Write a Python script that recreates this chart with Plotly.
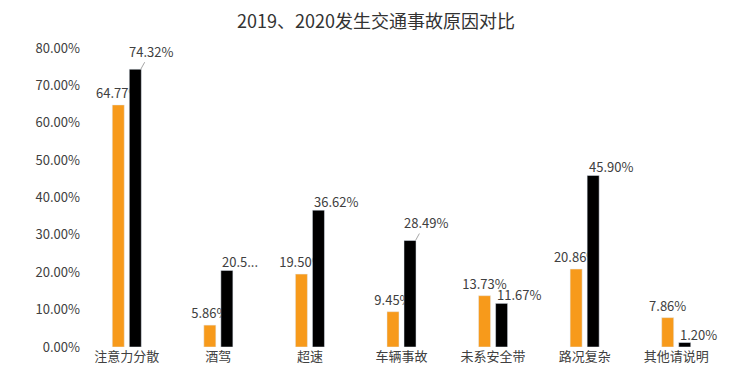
import plotly.graph_objects as go

categories = ["注意力分散", "酒驾", "超速", "车辆事故", "未系安全带", "路况复杂", "其他请说明"]
values_2019 = [0.6477, 0.0586, 0.1950, 0.0945, 0.1373, 0.2086, 0.0786]
values_2020 = [0.7432, 0.2050, 0.3662, 0.2849, 0.1167, 0.4590, 0.0120]
labels_2019 = ["64.77%", "5.86%", "19.50%", "9.45%", "13.73%", "20.86%", "7.86%"]
labels_2020 = ["74.32%", "20.5...", "36.62%", "28.49%", "11.67%", "45.90%", "1.20%"]
leader_2020 = [True, False, False, True, False, False, False]
y_ticks = [0, 0.1, 0.2, 0.3, 0.4, 0.5, 0.6, 0.7, 0.8]

FONT = "Noto Sans CJK SC"
ORANGE = "#F79A1B"
BLACK = "#000000"
TXT = "#404040"

fig = go.Figure()
fig.add_trace(go.Bar(
    x=categories, y=values_2019, name="2019", marker_color=ORANGE,
    text=labels_2019, textposition="outside", cliponaxis=False,
    constraintext="none",
    textfont=dict(family=FONT, size=13, color=TXT),
))
fig.add_trace(go.Bar(
    x=categories, y=values_2020, name="2020", marker_color=BLACK,
    cliponaxis=False,
))

annotations = []
for c, v, t, lead in zip(categories, values_2020, labels_2020, leader_2020):
    if lead:
        annotations.append(dict(
            x=c, y=v, xref="x", yref="y", text=t, showarrow=True,
            arrowhead=0, arrowwidth=1, arrowcolor="#a6a6a6",
            xshift=14, ax=10, ay=-18, standoff=0,
            font=dict(family=FONT, size=13, color=TXT),
        ))
    else:
        annotations.append(dict(
            x=c, y=v, xref="x", yref="y", text=t, showarrow=False,
            xanchor="left", yanchor="bottom", xshift=2, yshift=-3,
            font=dict(family=FONT, size=13, color=TXT),
        ))

fig.update_layout(
    width=736, height=370,
    margin=dict(l=73, r=22, t=40, b=31),
    paper_bgcolor="white", plot_bgcolor="white",
    title=dict(text="2019、2020发生交通事故原因对比", x=0.5, xanchor="center",
               y=0.963, yanchor="middle",
               font=dict(family=FONT, size=18, color="#333333")),
    showlegend=False,
    barmode="group", bargap=0.628, bargroupgap=0.294,
    annotations=annotations,
    xaxis=dict(showgrid=False, showline=False, zeroline=False, ticks="",
               tickfont=dict(family=FONT, size=13, color=TXT)),
    yaxis=dict(range=[0, 0.8], tickvals=y_ticks, tickformat=".2%",
               showgrid=False, showline=False, zeroline=False, ticks="",
               tickfont=dict(family=FONT, size=13, color=TXT)),
)

fig.write_html("out.html")
